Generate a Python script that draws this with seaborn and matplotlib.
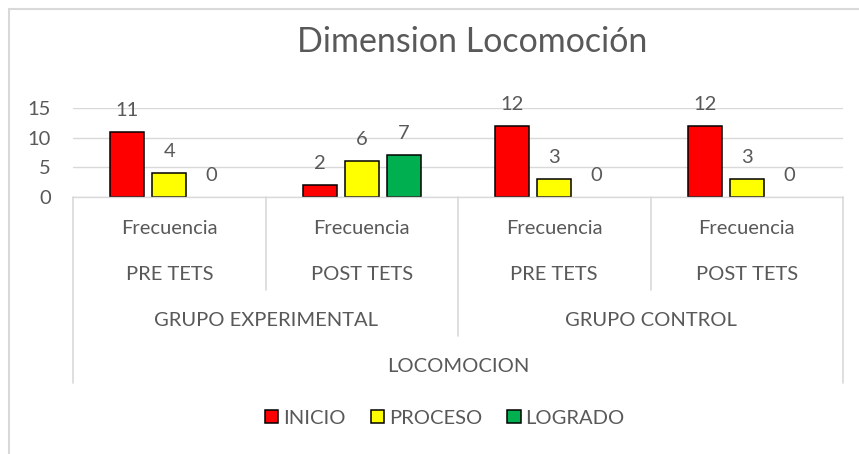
import matplotlib
matplotlib.use("Agg")
import matplotlib.pyplot as plt
import matplotlib.transforms as mtransforms
from matplotlib.patches import Rectangle
import seaborn as sns
import pandas as pd

# ---- data ----
categories = ["EXP_PRE", "EXP_POST", "CTL_PRE", "CTL_POST"]
level1 = ["Frecuencia", "Frecuencia", "Frecuencia", "Frecuencia"]
level2 = ["PRE TETS", "POST TETS", "PRE TETS", "POST TETS"]
level3 = ["GRUPO EXPERIMENTAL", "GRUPO CONTROL"]
level4 = "LOCOMOCION"
series = ["INICIO", "PROCESO", "LOGRADO"]
inicio = [11, 2, 12, 12]
proceso = [4, 6, 3, 3]
logrado = [0, 7, 0, 0]
title = "Dimension Locomoción"
yticks = [0, 5, 10, 15]

colors = ["#FF0000", "#FFFF00", "#00B050"]
text_color = "#595959"
grid_color = "#D9D9D9"

rows = []
for s, vals in zip(series, [inicio, proceso, logrado]):
    for c, v in zip(categories, vals):
        rows.append({"cat": c, "serie": s, "valor": v})
df = pd.DataFrame(rows)

sns.set_theme(style="white")
plt.rcParams["font.family"] = ["Lato", "DejaVu Sans"]

W, H = 859, 454
fig = plt.figure(figsize=(W / 100, H / 100), dpi=100)
x0, x1, y0, y15 = 73, 843, 197, 108
ax = fig.add_axes([x0 / W, 1 - y0 / H, (x1 - x0) / W, (y0 - y15) / H])

sns.barplot(data=df, x="cat", y="valor", hue="serie", order=categories,
            hue_order=series, palette=colors, width=0.655, gap=0.19,
            edgecolor="black", linewidth=1.1, saturation=1, ax=ax,
            legend=True)

for p in ax.patches:
    if p.get_height() == 0:
        p.set_edgecolor("none")

fs = 14.5
for cont in ax.containers:
    ax.bar_label(cont, labels=[f"{int(v)}" for v in cont.datavalues],
                 padding=9.5, fontsize=fs, color=text_color)

ax.set_ylim(0, 15)
ax.set_xlim(-0.5, 3.5)
ax.set_yticks(yticks)
ax.set_yticklabels([str(t) for t in yticks])
ax.tick_params(axis="y", length=0, pad=16, labelsize=fs, labelcolor=text_color)
ax.tick_params(axis="x", length=0)
ax.set_xticklabels([])
ax.set_xlabel("")
ax.set_ylabel("")
ax.grid(axis="y", color=grid_color, linewidth=1.0)
ax.set_axisbelow(True)
for sp in ax.spines.values():
    sp.set_visible(False)

# hierarchical category axis
trans = mtransforms.blended_transform_factory(ax.transData, fig.transFigure)
def fy(p):
    return 1 - p / H

ax.plot([-0.5, 3.5], [fy(197), fy(197)], transform=trans, color=grid_color,
        lw=1.0, clip_on=False)
for xb, ybot in [(-0.5, 383), (0.5, 290), (1.5, 336), (2.5, 290), (3.5, 383)]:
    ax.plot([xb, xb], [fy(197), fy(ybot)], transform=trans, color=grid_color,
            lw=1.2, clip_on=False)

for i in range(4):
    ax.text(i, fy(228), level1[i], transform=trans, ha="center", va="center",
            fontsize=fs, color=text_color)
    ax.text(i, fy(275), level2[i], transform=trans, ha="center", va="center",
            fontsize=fs, color=text_color)
for j in range(2):
    ax.text(0.5 + 2 * j, fy(321), level3[j], transform=trans, ha="center",
            va="center", fontsize=fs, color=text_color)
ax.text(1.5, fy(367), level4, transform=trans, ha="center", va="center",
        fontsize=fs, color=text_color)

# title
fig.text(472 / W, fy(52), title, ha="center", va="baseline", fontsize=24.5,
         color=text_color)

# legend
sns.move_legend(ax, loc="center", bbox_to_anchor=(445 / W, fy(418)),
                bbox_transform=fig.transFigure, ncol=3, frameon=False,
                title=None, fontsize=fs, handlelength=0.65, handleheight=0.65,
                handletextpad=0.25, columnspacing=1.25, labelcolor=text_color)
leg = ax.get_legend()
for h in leg.legend_handles:
    h.set_edgecolor("black")
    h.set_linewidth(1.1)

# chart border (top and left visible)
fig.add_artist(Rectangle((9 / W, -0.2), 1.2, (1 - 9 / H) + 0.2,
                         transform=fig.transFigure, fill=False,
                         edgecolor=grid_color, lw=1.5))

fig.savefig("out.png", dpi=100, facecolor="white")
